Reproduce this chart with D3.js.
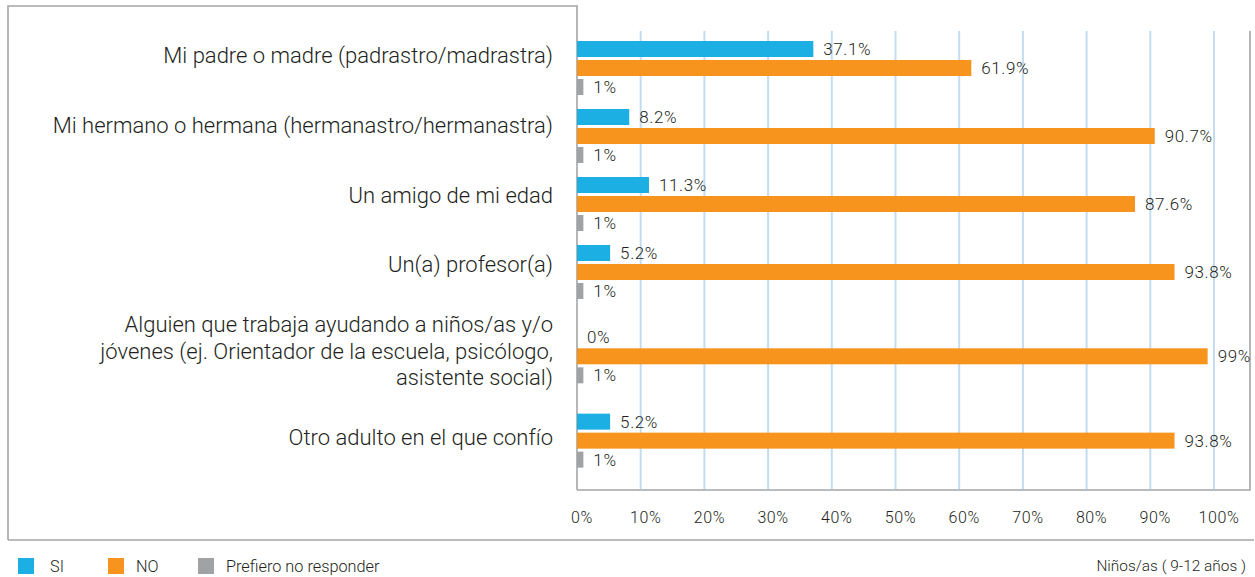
<!DOCTYPE html>
<html><head><meta charset="utf-8">
<script src="https://cdn.jsdelivr.net/npm/d3@7"></script>
<style>
html,body{margin:0;padding:0;background:#fff;}
svg{display:block;font-family:Roboto, "Liberation Sans", sans-serif;}
</style></head>
<body>
<svg id="chart" width="1255" height="577"></svg>
<script>
const categories = [
  "Mi padre o madre (padrastro/madrastra)",
  "Mi hermano o hermana (hermanastro/hermanastra)",
  "Un amigo de mi edad",
  "Un(a) profesor(a)",
  "Alguien que trabaja ayudando a niños/as y/o\njóvenes (ej. Orientador de la escuela, psicólogo,\nasistente social)",
  "Otro adulto en el que confío"
];
const seriesNames = ["SI", "NO", "Prefiero no responder"];
const siValues = [37.1, 8.2, 11.3, 5.2, 0, 5.2];
const noValues = [61.9, 90.7, 87.6, 93.8, 99, 93.8];
const prefValues = [1, 1, 1, 1, 1, 1];
const tickValues = [0, 10, 20, 30, 40, 50, 60, 70, 80, 90, 100];
const tickLabels = ["0%", "10%", "20%", "30%", "40%", "50%", "60%", "70%", "80%", "90%", "100%"];
const footnote = "Niños/as ( 9-12 años )";

const colors = ["#1cafe4", "#f7941d", "#a0a2a3"];
const frameColor = "#a3a5a7";
const gridColor = "#c3dcf0";
const textColor = "#231f20";

const svg = d3.select("#chart");

const plotLeft = 577, plotRight = 1250, plotTop = 31, plotBottom = 490;
const x = d3.scaleLinear().domain([0, 100]).range([plotLeft, 1214]);

// group weights based on label line count
const lines = categories.map(c => c.split("\n"));
const weights = lines.map(l => 1 + 0.24 * (l.length - 1));
const cum = [];
let acc = 0;
weights.forEach(w => { cum.push(acc + w / 2); acc += w; });
const total = acc;
const yBar = d3.scaleLinear().domain([0, total]).range([34, 34 + 68 * total]);
const yLab = d3.scaleLinear().domain([0, total]).range([21, 21 + 69.7 * total]);
const inner = d3.scaleBand().domain(seriesNames).range([-27, 27]).paddingInner(3 / 19);

// frame
const g0 = svg.append("g").attr("fill", "none").attr("stroke", frameColor).attr("stroke-width", 1.6);
g0.append("path").attr("d", `M8,540V6H${plotLeft}V${plotBottom}`);
g0.append("path").attr("d", `M${plotLeft},${plotBottom}H${plotRight}V${plotTop}`);
g0.append("path").attr("d", `M8,540H1254`);

// grid
svg.append("g").selectAll("line").data(tickValues.filter(t => t > 0)).join("line")
  .attr("x1", d => x(d)).attr("x2", d => x(d))
  .attr("y1", plotTop).attr("y2", plotBottom - 1)
  .attr("stroke", gridColor).attr("stroke-width", 2);

// tick labels
svg.append("g").selectAll("text").data(tickValues).join("text")
  .attr("x", d => x(d) + 5).attr("y", 517)
  .attr("text-anchor", "middle").attr("dominant-baseline", "central")
  .attr("font-size", 16).attr("letter-spacing", 0.6).attr("font-weight", 300).attr("fill", textColor)
  .text((d, i) => tickLabels[i]);

// category labels
const labG = svg.append("g");
categories.forEach((c, i) => {
  const ls = lines[i];
  const cy = yLab(cum[i]);
  const lh = 26.5;
  ls.forEach((t, j) => {
    labG.append("text")
      .attr("x", 553).attr("y", cy + (j - (ls.length - 1) / 2) * lh)
      .attr("text-anchor", "end").attr("dominant-baseline", "central")
      .attr("font-size", 22).attr("font-weight", 300).attr("fill", textColor)
      .text(t);
  });
});

// bars
const series = [siValues, noValues, prefValues];
series.forEach((vals, s) => {
  const g = svg.append("g");
  const data = vals.map((v, i) => ({ v, i }));
  g.selectAll("rect").data(data).join("rect")
    .attr("x", x(0))
    .attr("y", d => yBar(cum[d.i]) + inner(seriesNames[s]))
    .attr("width", d => x(d.v) - x(0))
    .attr("height", inner.bandwidth())
    .attr("fill", colors[s]);
  g.selectAll("text").data(data).join("text")
    .attr("x", d => x(d.v) + 10)
    .attr("y", d => yBar(cum[d.i]) + inner(seriesNames[s]) + inner.bandwidth() / 2)
    .attr("dominant-baseline", "central")
    .attr("font-size", 17).attr("letter-spacing", 0.6).attr("font-weight", 300).attr("fill", textColor)
    .text(d => `${d.v}%`);
});

// legend
const legX = [18, 108, 198];
const leg = svg.append("g");
seriesNames.forEach((n, i) => {
  leg.append("rect").attr("x", legX[i]).attr("y", 558).attr("width", 16).attr("height", 16).attr("fill", colors[i]);
  leg.append("text").attr("x", legX[i] + (i === 0 ? 32 : 28)).attr("y", 566)
    .attr("dominant-baseline", "central").attr("font-size", 16.3).attr("font-weight", 300)
    .attr("fill", textColor).text(n);
});
svg.append("text").attr("x", 1246).attr("y", 566).attr("text-anchor", "end")
  .attr("dominant-baseline", "central").attr("font-size", 15.4).attr("font-weight", 300)
  .attr("fill", textColor).text(footnote);
</script>
</body></html>
